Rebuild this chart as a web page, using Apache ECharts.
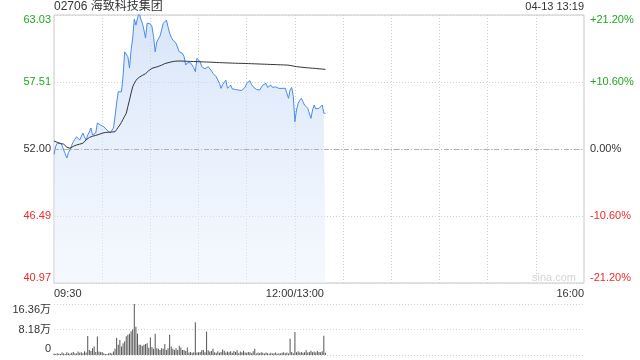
<!DOCTYPE html>
<html><head><meta charset="utf-8">
<script src="https://cdn.jsdelivr.net/npm/echarts@6/dist/echarts.min.js"></script>
<style>html,body{margin:0;padding:0;background:#fff}#c{width:640px;height:360px}</style>
</head><body><div id="c"></div>
<script>
const TITLE = '02706 海致科技集团';
const STAMP = '04-13 13:19';
const WATERMARK = 'sina.com';
const prevClose = 52.00;
const leftTicks = ['40.97', '46.49', '52.00', '57.51', '63.03'];
const rightTicks = ['-21.20%', '-10.60%', '0.00%', '+10.60%', '+21.20%'];
const volTicks = ['0', '8.18万', '16.36万'];
const timeTicks = ['09:30', '12:00/13:00', '16:00'];
const timeTickIdx = [0, 150, 330];

// price per minute, 09:30 .. 13:19
const price = [
51.55,52.20,52.47,52.45,52.49,52.30,51.92,51.60,51.26,51.70,
51.92,52.30,52.60,52.80,53.01,52.85,52.74,52.90,53.32,53.00,
52.74,53.15,53.40,53.73,53.15,53.20,53.32,54.14,54.05,53.97,
53.90,53.83,53.70,53.56,53.40,53.32,53.42,53.73,54.66,55.80,
56.71,56.71,56.71,58.00,60.00,59.90,59.59,58.66,60.14,61.13,
62.69,62.20,62.77,63.29,62.70,62.36,61.79,61.13,62.36,62.50,
62.30,62.06,61.24,60.00,60.82,60.90,61.30,61.79,62.34,62.47,
62.61,62.06,61.51,61.20,60.96,60.82,60.70,60.55,60.00,59.95,
59.87,59.60,58.91,59.10,59.18,59.10,59.05,58.70,58.36,59.46,
59.30,59.18,58.77,58.91,58.60,58.50,58.77,58.64,58.45,58.23,
58.10,57.95,57.81,57.40,56.99,57.30,57.40,57.67,56.99,57.10,
57.26,56.95,56.85,56.90,56.91,56.85,56.79,56.82,56.85,57.10,
57.40,57.50,57.62,57.30,57.12,57.00,56.91,56.88,56.85,57.00,
57.26,57.30,57.40,57.07,57.20,57.26,57.07,57.10,57.12,57.05,
56.99,57.00,56.99,57.00,57.00,56.99,56.17,56.85,57.07,56.30,
54.25,55.21,55.76,56.00,56.17,55.89,55.62,55.50,55.35,55.21,
54.52,55.21,55.62,55.30,55.21,55.35,55.50,55.62,54.94,54.94
];
// average price line per minute
const avgPrice = [
52.66,52.60,52.55,52.50,52.45,52.42,52.40,52.30,52.15,52.08,
52.06,52.15,52.22,52.28,52.33,52.36,52.40,52.44,52.47,52.60,
52.75,52.88,52.95,53.00,53.05,53.10,53.12,53.15,53.20,53.25,
53.30,53.34,53.36,53.37,53.38,53.39,53.40,53.41,53.42,53.60,
53.80,53.97,54.20,54.45,54.70,54.94,55.50,56.03,56.60,57.12,
57.40,57.65,57.80,57.90,58.00,58.06,58.10,58.20,58.30,58.45,
58.58,58.64,58.68,58.72,58.76,58.80,58.83,58.90,58.97,59.03,
59.08,59.10,59.14,59.17,59.20,59.22,59.24,59.24,59.24,59.24,
59.23,59.23,59.22,59.22,59.21,59.21,59.20,59.20,59.19,59.19,
59.18,59.18,59.17,59.17,59.16,59.16,59.15,59.15,59.14,59.14,
59.13,59.12,59.12,59.11,59.11,59.10,59.10,59.09,59.09,59.08,
59.08,59.07,59.07,59.06,59.06,59.05,59.05,59.05,59.04,59.04,
59.03,59.03,59.02,59.02,59.01,59.01,59.00,59.00,58.99,58.99,
58.98,58.98,58.97,58.97,58.96,58.96,58.95,58.95,58.94,58.94,
58.93,58.93,58.93,58.92,58.92,58.91,58.90,58.88,58.85,58.83,
58.80,58.78,58.76,58.75,58.73,58.72,58.70,58.69,58.68,58.67,
58.66,58.65,58.64,58.63,58.62,58.60,58.59,58.58,58.57,58.55
];
// volume per minute, in 万 shares
const volume = [
0.5,0.3,0.6,0.4,0.3,0.8,0.5,0.3,0.9,0.6,
0.4,0.7,1.0,0.6,0.5,1.1,0.7,0.9,0.6,1.2,
0.8,6.1,1.6,1.3,2.2,2.7,1.0,5.9,1.1,0.9,
1.0,0.6,0.3,0.3,0.6,0.7,0.5,1.1,2.0,5.5,
3.3,4.8,2.7,3.8,4.4,6.0,6.5,6.8,7.6,8.2,
16.36,9.1,6.8,3.3,3.3,2.9,3.3,3.5,3.8,2.3,
5.6,2.6,2.0,6.8,2.2,2.0,1.6,2.2,2.0,3.5,
1.6,2.2,6.5,2.7,2.0,1.6,2.2,1.6,3.0,2.4,
1.6,1.6,1.3,2.4,0.8,1.0,0.7,0.9,10.5,0.8,
0.9,1.0,1.5,1.6,0.9,7.5,1.5,1.1,1.3,2.0,
0.9,0.7,1.2,0.7,1.0,1.8,1.4,0.8,1.1,0.9,
1.2,0.7,1.3,1.0,1.5,0.6,1.1,0.9,1.4,0.8,
0.7,1.0,0.9,0.6,1.2,2.0,0.5,0.8,0.6,0.9,
0.7,0.5,0.8,0.6,0.4,0.7,0.5,0.6,0.8,0.4,
0.6,0.5,0.7,0.9,0.6,0.8,0.5,5.2,1.0,0.6,
7.4,0.9,1.2,0.8,1.0,0.7,0.9,1.5,0.8,1.0,
1.4,0.9,1.1,0.8,1.3,1.0,0.9,1.2,6.2,0.7
];

// trading-minute categories: 09:30-12:00, 13:01-16:00
const times = [];
function hm(m){const h=Math.floor(m/60),mm=m%60;return (h<10?'0':'')+h+':'+(mm<10?'0':'')+mm;}
for (let m = 570; m <= 720; m++) times.push(hm(m));
for (let m = 781; m <= 960; m++) times.push(hm(m));

const GREEN = '#22a822', RED = '#ee2b2b', DARK = '#333';
const FONT = '"Liberation Sans", Arial, "Noto Sans CJK SC", sans-serif';

function nearest(list, v, tol){
  for (let i = 0; i < list.length; i++) {
    if (Math.abs(parseFloat(list[i]) - v) < tol) return i;
  }
  return -1;
}
function richLabel(list, v, tol){
  const i = nearest(list, v, tol);
  if (i < 0) return '';
  const n = list.length;
  let key;
  if (i === 0) key = 'rB';
  else if (i === n - 1) key = 'gT';
  else if (i < (n - 1) / 2) key = 'r';
  else if (i > (n - 1) / 2) key = 'g';
  else key = 'n';
  return '{' + key + '|' + list[i] + '}';
}
const richStyles = {
  gT: {color: GREEN, padding: [10, 0, 0, 0], fontSize: 11, fontFamily: FONT},
  g: {color: GREEN, fontSize: 11, fontFamily: FONT},
  n: {color: DARK, fontSize: 11, fontFamily: FONT},
  r: {color: RED, fontSize: 11, fontFamily: FONT},
  rB: {color: RED, padding: [0, 0, 10, 0], fontSize: 11, fontFamily: FONT}
};
const volRich = {
  t: {color: DARK, padding: [12, 0, 0, 0], fontSize: 11, fontFamily: FONT},
  m: {color: DARK, fontSize: 11, fontFamily: FONT},
  b: {color: DARK, padding: [0, 0, 12, 0], fontSize: 11, fontFamily: FONT}
};

const pMin = parseFloat(leftTicks[0]), pMax = parseFloat(leftTicks[leftTicks.length - 1]);
const rMin = parseFloat(rightTicks[0]), rMax = parseFloat(rightTicks[rightTicks.length - 1]);
const vMax = parseFloat(volTicks[volTicks.length - 1]);

const chart = echarts.init(document.getElementById('c'), null, {renderer: 'canvas'});
chart.setOption({
  animation: false,
  textStyle: {fontFamily: FONT},
  graphic: [
    {type: 'text', left: 54, top: 1, style: {text: TITLE, fontSize: 12, fill: DARK, fontFamily: FONT}},
    {type: 'text', right: 56, top: 1, style: {text: STAMP, fontSize: 11, fill: DARK, fontFamily: FONT}},
    {type: 'text', left: 532, top: 272, style: {text: WATERMARK, fontSize: 11, fill: '#d4d4d4', fontFamily: FONT}}
  ],
  grid: [
    {left: 54, right: 56, top: 15, height: 268, show: true, borderColor: '#c8c8c8', borderWidth: 1, backgroundColor: 'transparent'},
    {left: 54, right: 56, top: 304, height: 51}
  ],
  xAxis: [
    {
      type: 'category', gridIndex: 0, data: times, boundaryGap: false,
      axisLine: {show: false}, axisTick: {show: false},
      axisLabel: {
        show: true, margin: 5, fontSize: 11, color: DARK, fontFamily: FONT,
        interval: function (i) { return timeTickIdx.indexOf(i) >= 0; },
        formatter: function (v, i) { const k = timeTickIdx.indexOf(i); return k >= 0 ? timeTicks[k] : ''; },
        alignMinLabel: 'left', alignMaxLabel: 'right', hideOverlap: false
      },
      splitLine: {show: true, interval: function (i) { return i % 30 === 0 && i > 0 && i < 330; }, lineStyle: {color: '#d0d0d0', type: [1, 2], width: 1}}
    },
    {
      type: 'category', gridIndex: 1, data: times, boundaryGap: false,
      axisLine: {show: false}, axisTick: {show: false}, axisLabel: {show: false}, splitLine: {show: false}
    }
  ],
  yAxis: [
    {
      type: 'value', gridIndex: 0, min: pMin, max: pMax, interval: (pMax - pMin) / 4, position: 'left',
      axisLine: {show: false}, axisTick: {show: false},
      axisLabel: {margin: 3, fontSize: 11, formatter: function (v) { return richLabel(leftTicks, v, 0.01); }, rich: richStyles},
      splitLine: {show: true, lineStyle: {color: '#d0d0d0', type: [1, 2], width: 1}}
    },
    {
      type: 'value', gridIndex: 0, min: rMin, max: rMax, interval: (rMax - rMin) / 4, position: 'right',
      axisLine: {show: false}, axisTick: {show: false},
      axisLabel: {margin: 6, fontSize: 11, formatter: function (v) { return richLabel(rightTicks, v, 0.01); }, rich: richStyles},
      splitLine: {show: false}
    },
    {
      type: 'value', gridIndex: 1, min: 0, max: vMax, interval: vMax / 2, position: 'left',
      axisLine: {show: false}, axisTick: {show: false},
      axisLabel: {margin: 3, fontSize: 11, formatter: function (v) {
        const i = nearest(volTicks, v, 0.01); if (i < 0) return '';
        return '{' + (i === 0 ? 'b' : (i === volTicks.length - 1 ? 't' : 'm')) + '|' + volTicks[i] + '}';
      }, rich: volRich},
      splitLine: {show: true, lineStyle: {color: '#d0d0d0', type: [1, 2], width: 1}}
    }
  ],
  series: [
    {
      type: 'line', xAxisIndex: 0, yAxisIndex: 0, data: price, showSymbol: false, symbol: 'none',
      lineStyle: {color: '#4a8af0', width: 1},
      areaStyle: {origin: 'start', color: new echarts.graphic.LinearGradient(0, 0, 0, 1, [
        {offset: 0, color: 'rgba(190,212,246,0.85)'},
        {offset: 1, color: 'rgba(232,240,253,0.6)'}
      ])},
      markLine: {silent: true, symbol: 'none', label: {show: false},
        lineStyle: {color: '#b0b0b0', type: [5, 2, 1, 2], width: 1},
        data: [{yAxis: prevClose}]},
      z: 3
    },
    {
      type: 'line', xAxisIndex: 0, yAxisIndex: 0, data: avgPrice, showSymbol: false, symbol: 'none',
      lineStyle: {color: '#333', width: 1}, z: 4
    },
    {
      type: 'bar', xAxisIndex: 1, yAxisIndex: 2, data: volume, barWidth: 1,
      itemStyle: {color: '#555'}
    }
  ]
});
</script></body></html>
